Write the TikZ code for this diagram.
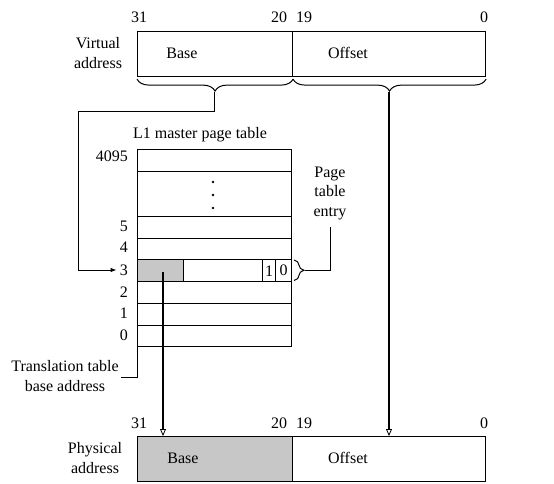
\documentclass[tikz,border=0pt]{standalone}
\usepackage{fontspec}
\setmainfont{Liberation Serif}
\usetikzlibrary{arrows.meta,decorations.pathreplacing,calc}
\begin{document}
\begin{tikzpicture}[x=1pt,y=-1pt,
  txt/.style={font=\fontsize{16}{19.5}\selectfont, inner sep=0pt},
  lbl/.style={txt, align=center},
  field/.style={draw, line width=1.1pt, minimum height=45pt, inner sep=0pt, anchor=north west},
  cell/.style={draw, line width=1pt, minimum height=21.7pt, inner sep=0pt, anchor=north west},
  grayfill/.style={fill=black!22},
  brc/.style={decorate, decoration={brace, amplitude=12pt}, line width=1pt},
  conn/.style={line width=1pt},
  bigarrow/.style={line width=1.5pt, -{Triangle[open, length=7pt, width=6pt, line width=0.8pt]}},
  smallarrow/.style={line width=1pt, -{Latex[length=6pt, width=4.5pt]}}
]
\useasboundingbox (0,0) rectangle (554,484);

% ---------------- Virtual address
\node[field, minimum width=155pt] (vbase) at (137,31) {};
\node[field, minimum width=193pt] (voff) at (292,31) {};
\node[txt] (vbaset) at (182,53) {Base};
\node[txt] (vofft) at (348,53) {Offset};
\node[lbl] (vlabel) at (98,53) {Virtual\\address};
\node[txt] (v31) at (139,17) {31};
\node[txt] (v20) at (279,17) {20};
\node[txt] (v19) at (304,17) {19};
\node[txt] (v0) at (484,17) {0};

% braces under virtual address
\coordinate (bb1) at ($(vbase.south east)+(0,2)$);
\coordinate (bb2) at ($(vbase.south west)+(0,2)$);
\coordinate (bo1) at ($(voff.south east)+(0,2)$);
\coordinate (bo2) at ($(voff.south west)+(1,2)$);
\draw[brc] (bb1) -- (bb2);
\draw[brc] (bo1) -- (bo2);
\coordinate (btip) at (214.5,92);
\coordinate (otip) at (389,92);

% ---------------- L1 master page table
\node[txt] (ttitle) at (200,135) {L1 master page table};
\node[cell, minimum width=154pt] (r4095) at (137,149) {};
\node[cell, minimum width=154pt, minimum height=45pt] (rdots) at (137,171) {};
\node[cell, minimum width=154pt] (r5) at (137,216) {};
\node[cell, minimum width=154pt] (r4) at (137,237.7) {};
\node[cell, minimum width=46pt, grayfill] (r3a) at (137,259.4) {};
\node[cell, minimum width=79pt] (r3b) at (183,259.4) {};
\node[cell, minimum width=13pt] (r3c) at (262,259.4) {};
\node[cell, minimum width=16pt] (r3d) at (275,259.4) {};
\node[cell, minimum width=154pt] (r2) at (137,281.1) {};
\node[cell, minimum width=154pt] (r1) at (137,302.8) {};
\node[cell, minimum width=154pt] (r0) at (137,324.5) {};
\node[txt] at (r3c.center) {1};
\node[txt] at (r3d.center) {0};
\foreach \yy in {182,195,208} \fill (213,\yy) circle (1.3pt);

% row labels
\node[txt, anchor=east] (l4095) at (128,156) {4095};
\node[txt, anchor=east] (l5) at (128,226) {5};
\node[txt, anchor=east] (l4) at (128,247.5) {4};
\node[txt, anchor=east] (l3) at (128,270) {3};
\node[txt, anchor=east] (l2) at (128,292) {2};
\node[txt, anchor=east] (l1) at (128,313.5) {1};
\node[txt, anchor=east] (l0) at (128,335) {0};

% page table entry brace + label
\coordinate (pe1) at (294,260);
\coordinate (pe2) at (294,280.5);
\draw[brc, decoration={brace, amplitude=10pt}] (pe1) -- (pe2);
\node[lbl] (pelabel) at (330,193) {Page\\table\\entry};
\coordinate (petip) at (305,270.2);
\coordinate (petop) at (330,227);
\draw[conn] (petip) -| (petop);

% translation table base address
\node[lbl] (ttlabel) at (65,376) {Translation table\\base address};
\coordinate (ttend) at (121,377);
\draw[conn] (r0.south west) |- (ttend);

% ---------------- Physical address
\node[field, minimum width=155pt, grayfill] (pbase) at (137,436) {};
\node[field, minimum width=193pt] (poff) at (292,436) {};
\node[txt] (pbaset) at (183,458) {Base};
\node[txt] (pofft) at (348,458) {Offset};
\node[lbl] (plabel) at (95,458) {Physical\\address};
\node[txt] (p31) at (139,423) {31};
\node[txt] (p20) at (279,423) {20};
\node[txt] (p19) at (304,423) {19};
\node[txt] (p0) at (484,423) {0};

% ---------------- connectors
\coordinate (gstart) at (163,272);
\draw[conn] (btip) -- (214.5,112) -| (78,270) coordinate (cturn);
\draw[smallarrow] (cturn) -- ($(l3.west)+(-3,0)$);
\draw[bigarrow] (gstart) -- (gstart |- pbase.north);
\draw[bigarrow] (otip) -- (otip |- poff.north);
\end{tikzpicture}
\end{document}
